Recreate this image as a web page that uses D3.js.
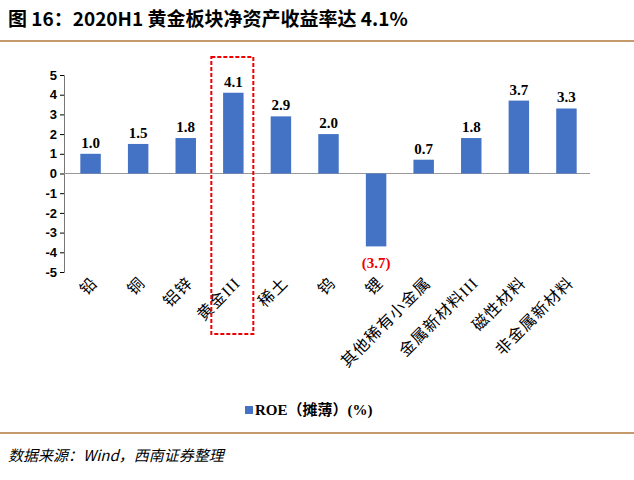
<!DOCTYPE html>
<html><head><meta charset="utf-8">
<script src="https://cdn.jsdelivr.net/npm/d3@7"></script>
<style>body{margin:0;background:#fff}</style>
</head><body>
<script>
var data = [
  ['铅', 1.0], ['铜', 1.5], ['铝锌', 1.8], ['黄金III', 4.1], ['稀土', 2.9], ['钨', 2.0],
  ['锂', -3.7], ['其他稀有小金属', 0.7], ['金属新材料III', 1.8], ['磁性材料', 3.7], ['非金属新材料', 3.3]
];
var svg = d3.select('body').append('svg').attr('width', 634).attr('height', 480);
var cn = '"Noto Sans CJK SC", sans-serif', serif = '"Liberation Serif", "Noto Sans CJK SC", serif';

svg.append('text').attr('x', 8).attr('y', 26).attr('font-family', cn)
   .attr('font-size', 19).attr('font-weight', 'bold').text('图 16：2020H1 黄金板块净资产收益率达 4.1%');
svg.append('line').attr('x1', 0).attr('x2', 634).attr('y1', 41).attr('y2', 41)
   .attr('stroke', '#c49a6c').attr('stroke-width', 2);
svg.append('line').attr('x1', 0).attr('x2', 634).attr('y1', 433).attr('y2', 433)
   .attr('stroke', '#c49a6c').attr('stroke-width', 2);
svg.append('text').attr('x', 8).attr('y', 461).attr('font-family', cn)
   .attr('font-size', 15).attr('font-style', 'italic').text('数据来源：Wind，西南证券整理');

var x = d3.scaleBand().domain(data.map(function(d) { return d[0]; })).range([67, 590]).paddingInner(0.57).paddingOuter(0.28);
var y = d3.scaleLinear().domain([-5, 5]).range([272, 75]);

var yAxis = svg.append('g').attr('transform', 'translate(64,0)')
   .call(d3.axisLeft(y).ticks(10).tickSize(4).tickFormat(function(d) { return String(d); }));
yAxis.selectAll('text').attr('font-family', 'Arial').attr('font-size', 13).attr('font-weight', 'bold');
yAxis.select('.domain').attr('stroke', '#777');
svg.append('line').attr('x1', 64).attr('x2', 590).attr('y1', y(0)).attr('y2', y(0)).attr('stroke', '#999');

svg.selectAll('rect.bar').data(data).enter().append('rect').attr('class', 'bar')
   .attr('x', function(d) { return x(d[0]); }).attr('width', x.bandwidth())
   .attr('y', function(d) { return y(Math.max(0, d[1])); })
   .attr('height', function(d) { return Math.abs(y(d[1]) - y(0)); })
   .attr('fill', '#4472c4');

svg.selectAll('text.val').data(data).enter().append('text')
   .attr('x', function(d) { return x(d[0]) + x.bandwidth() / 2; })
   .attr('y', function(d) { return d[1] > 0 ? y(d[1]) - 6 : y(d[1]) + 22; })
   .attr('text-anchor', 'middle').attr('font-family', serif).attr('font-size', 15).attr('font-weight', 'bold')
   .attr('fill', function(d) { return d[1] < 0 ? '#e00' : '#000'; })
   .text(function(d) { return d[1] < 0 ? '(' + Math.abs(d[1]).toFixed(1) + ')' : d[1].toFixed(1); });

svg.selectAll('text.cat').data(data).enter().append('text')
   .attr('transform', function(d) { return 'translate(' + (x(d[0]) + x.bandwidth() / 2 + 8) + ',284) rotate(-45)'; })
   .attr('text-anchor', 'end').attr('font-family', serif).attr('font-size', 16)
   .attr('letter-spacing', 1).text(function(d) { return d[0]; });

var hx = x('黄金III') + x.bandwidth() / 2;
svg.append('rect').attr('x', hx - 22).attr('y', 57).attr('width', 42).attr('height', 277)
   .attr('fill', 'none').attr('stroke', '#e00').attr('stroke-width', 2).attr('stroke-dasharray', '4,2');

svg.append('rect').attr('x', 245).attr('y', 406).attr('width', 8).attr('height', 8).attr('fill', '#4472c4');
svg.append('text').attr('x', 255).attr('y', 415).attr('font-family', serif).attr('font-size', 15)
   .attr('font-weight', 'bold').text('ROE（摊薄）(%)');
</script>
</body></html>
